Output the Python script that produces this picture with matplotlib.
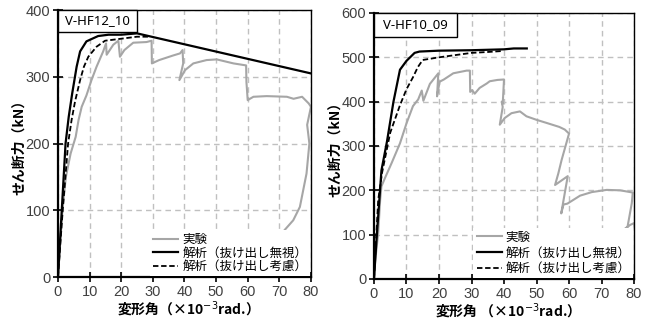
import matplotlib
matplotlib.use("Agg")
import matplotlib.pyplot as plt
from matplotlib.patches import Rectangle

# ---------------- data: V-HF12_10 ----------------
l_exp_x = [0, 1.4, 2.5, 4, 5.6, 6.5, 7.5, 9, 10.6, 12.2, 14.3, 15.2, 15.4, 17.5, 19.1, 19.6,
           21, 23.8, 28, 29.6, 29.7, 32, 36.5, 38.6, 39.4, 39.6, 38.4, 40.2, 42.8, 47, 50.2,
           55.5, 59.5, 59.6, 60, 61.8, 66, 72.4, 74.5, 77.2, 79.3, 80, 78.8, 79.5, 78.6,
           76.5, 74.4, 71.6, 70.3]
l_exp_y = [0, 100, 150, 185, 210, 235, 255, 272, 295, 315, 338, 350, 333, 348, 354, 330,
           340, 351, 352, 354, 320, 325, 332, 335, 340, 320, 295, 310, 320, 325, 326,
           320, 317, 292, 265, 270, 271, 270, 267, 270, 260, 255, 228, 200, 155,
           105, 85, 70, 40]
l_an1_x = [0, 1.2, 2.4, 3.4, 4.5, 5.9, 7, 9, 12.7, 16, 20, 25, 80]
l_an1_y = [0, 100, 200, 240, 275, 315, 338, 353, 361, 363, 363, 365, 305]
l_an2_x = [0, 1.5, 3.2, 4.3, 5.4, 7, 8.2, 9.6, 12.2, 14.9, 20, 25, 29]
l_an2_y = [0, 100, 200, 235, 263, 295, 315, 330, 345, 354, 357, 360, 360]

# ---------------- data: V-HF10_09 ----------------
r_exp_x = [0, 0.3, 1.3, 1.9, 2.3, 3.4, 5.4, 8, 10, 12, 13.6, 14.7, 15.2, 17.2, 19.8, 19.4,
           20.2, 21.5, 24.4, 28.5, 29.5, 29.6, 30.2, 31, 32.5, 34.7, 35.6, 38, 40, 39.6,
           39.3, 39.6, 38.7, 40.2, 42.3, 44.9, 46.9, 50, 53.1, 57, 58.7, 60, 57.7, 56.7,
           55.7, 59.6, 57.6, 58.3, 59.5, 63.4, 67, 71.6, 75.7, 79.6, 79.3, 78, 76.7, 78.8,
           80, 80.5]
r_exp_y = [0, 36, 103, 178, 209, 228, 261, 306, 351, 390, 405, 425, 402, 440, 464, 412,
           445, 450, 464, 470, 470, 422, 426, 418, 431, 441, 446, 449, 450, 395,
           400, 388, 348, 363, 374, 378, 367, 359, 352, 343, 337, 328, 268, 238,
           212, 232, 148, 168, 170, 188, 196, 201, 200, 195, 171, 118, 110, 122,
           126, 100]
r_an1_x = [0, 0.8, 2.3, 4, 6, 8, 10, 12.5, 14, 20, 30, 40, 43, 47]
r_an1_y = [0, 90, 245, 310, 400, 472, 492, 510, 513, 515, 516, 518, 520, 520]
r_an2_x = [0, 1.3, 2.5, 5, 8, 10, 12, 13.5, 15, 20, 25, 30, 35, 39]
r_an2_y = [0, 178, 240, 330, 392, 428, 455, 478, 494, 500, 505, 510, 512, 514]

labels = ["実験", "解析（抜け出し無視）", "解析（抜け出し考慮）"]
x_ticks = [0, 10, 20, 30, 40, 50, 60, 70, 80]
CJK = ["Noto Sans CJK JP", "DejaVu Sans"]

fig = plt.figure(figsize=(6.47, 3.27), dpi=100)
axL = fig.add_axes([0.0896, 0.1529, 0.391, 0.8165])
axR = fig.add_axes([0.578, 0.1468, 0.402, 0.8135])


def style(ax, ymax, ystep, name, xlabel, box_w, box_h, labsp):
    ax.set_xlim(0, 80)
    ax.set_ylim(0, ymax)
    ax.set_xticks(x_ticks)
    ax.set_yticks(list(range(0, ymax + 1, ystep)))
    ax.set_axisbelow(True)
    ax.grid(True, which="major", color="#c0c0c0", linestyle=(0, (4, 3)), linewidth=1.0)
    for s in ["left", "bottom"]:
        ax.spines[s].set_linewidth(1.6)
    for s in ["top", "right"]:
        ax.spines[s].set_linewidth(1.0)
    ax.tick_params(direction="inout", length=7, width=1.2, labelsize=10.5,
                   labelcolor="#404040", pad=2)
    for lab in ax.get_xticklabels() + ax.get_yticklabels():
        lab.set_family(["Liberation Sans", "DejaVu Sans"])
    ax.set_xlabel(xlabel, family=CJK, fontsize=10, fontweight="bold", labelpad=1)
    ax.set_ylabel("せん断力（kN）", family=CJK, fontsize=10, fontweight="bold", labelpad=0)
    ax.add_patch(Rectangle((0, 1 - box_h), box_w, box_h, transform=ax.transAxes,
                           fc="white", ec="black", lw=1.0, zorder=6, clip_on=False))
    ax.text(box_w / 2, 1 - box_h / 2, name, transform=ax.transAxes, fontsize=9.5,
            family=["Noto Sans", "DejaVu Sans"], va="center", ha="center", zorder=7)
    leg = ax.legend(loc="lower right", prop={"family": CJK, "size": 9},
                    frameon=True, framealpha=1, edgecolor="none", fancybox=False,
                    handlelength=2.0, handletextpad=0.3, labelspacing=labsp,
                    borderpad=0.25, borderaxespad=0.05)
    leg.set_zorder(5)


axL.plot(l_exp_x, l_exp_y, color="#a6a6a6", lw=1.5, label=labels[0])
axL.plot(l_an1_x, l_an1_y, color="black", lw=1.6, label=labels[1])
axL.plot(l_an2_x, l_an2_y, color="black", lw=1.3, ls=(0, (3, 1.5)), label=labels[2])
style(axL, 400, 100, "V-HF12_10", "変形角（×10$^{-3}$rad.）", 0.312, 0.0824, 0.05)

axR.plot(r_exp_x, r_exp_y, color="#a6a6a6", lw=1.5, label=labels[0])
axR.plot(r_an1_x, r_an1_y, color="black", lw=1.6, label=labels[1])
axR.plot(r_an2_x, r_an2_y, color="black", lw=1.3, ls=(0, (3, 1.5)), label=labels[2])
style(axR, 600, 100, "V-HF10_09", "変形角 （×10$^{-3}$rad.）", 0.319, 0.090, 0.22)

fig.savefig("out.png", dpi=100)
